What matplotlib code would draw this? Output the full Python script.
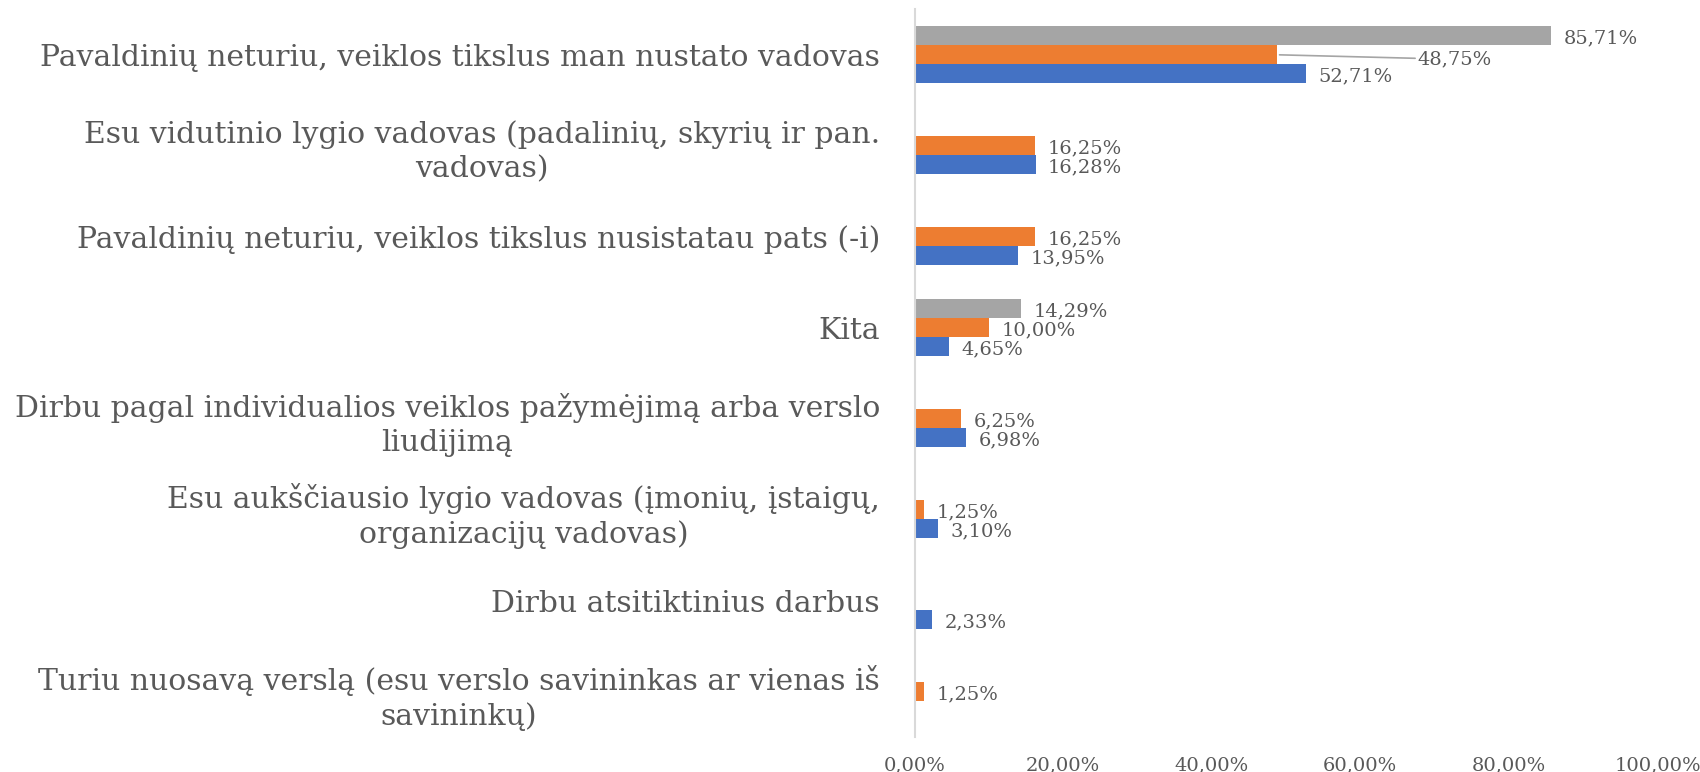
import matplotlib
matplotlib.use('Agg')
import matplotlib.pyplot as plt
import numpy as np

matplotlib.rcParams['font.family'] = ['DejaVu Serif']

# ---- data (top to bottom) ----
categories = [
    'Pavaldinių neturiu, veiklos tikslus man nustato vadovas',
    'Esu vidutinio lygio vadovas (padalinių, skyrių ir pan.\nvadovas)',
    'Pavaldinių neturiu, veiklos tikslus nusistatau pats (-i)',
    'Kita',
    'Dirbu pagal individualios veiklos pažymėjimą arba verslo\nliudijimą',
    'Esu aukščiausio lygio vadovas (įmonių, įstaigų,\norganizacijų vadovas)',
    'Dirbu atsitiktinius darbus',
    'Turiu nuosavą verslą (esu verslo savininkas ar vienas iš\nsavininkų)',
]
blue_vals = [52.71, 16.28, 13.95, 4.65, 6.98, 3.10, 2.33, np.nan]
orange_vals = [48.75, 16.25, 16.25, 10.00, 6.25, 1.25, np.nan, 1.25]
gray_vals = [85.71, np.nan, np.nan, 14.29, np.nan, np.nan, np.nan, np.nan]

C_BLUE = '#4472C4'
C_ORANGE = '#ED7D31'
C_GRAY = '#A5A5A5'
C_TEXT = '#595959'

fig = plt.figure(figsize=(17, 7.72), dpi=100)
ax = fig.add_axes([0.538, 0.045, 0.437, 0.943])

y = np.arange(len(categories))
h = 0.21
series = [(gray_vals, C_GRAY, -h), (orange_vals, C_ORANGE, 0.0), (blue_vals, C_BLUE, h)]

for vals, color, off in series:
    v = np.array(vals, dtype=float)
    ax.barh(y + off, np.nan_to_num(v), height=h, color=color, edgecolor='none')
    for yi, val in zip(y, v):
        if np.isnan(val):
            continue
        txt = f'{val:.2f}%'.replace('.', ',')
        if color == C_ORANGE and yi == 0:
            # label moved away from the bar, with a leader line
            ax.annotate(txt, xy=(val, yi + off), xytext=(val + 19, yi + off + 0.05),
                        va='center', ha='left', fontsize=14, color=C_TEXT,
                        arrowprops=dict(arrowstyle='-', color=C_GRAY, lw=1.2,
                                        shrinkA=0, shrinkB=2))
            continue
        ax.annotate(txt, xy=(val, yi + off), xytext=(9, -2), textcoords='offset points',
                    va='center', ha='left', fontsize=14, color=C_TEXT)

ax.set_ylim(len(categories) - 0.5, -0.5)
ax.set_xlim(0, 100)
ax.set_yticks(y)
ax.set_yticklabels(categories, fontsize=21.5, color=C_TEXT,
                   multialignment='center', linespacing=1.3)
ax.set_xticks(np.arange(0, 101, 20))
ax.set_xticklabels([f'{t:.2f}%'.replace('.', ',') for t in np.arange(0, 101, 20)],
                   fontsize=14, color=C_TEXT)
ax.tick_params(axis='y', length=0, pad=25)
ax.tick_params(axis='x', length=0, pad=14)
for s in ['top', 'right', 'bottom']:
    ax.spines[s].set_visible(False)
ax.spines['left'].set_color('#D9D9D9')
ax.spines['left'].set_linewidth(1.5)

fig.savefig('out.png', dpi=100)
